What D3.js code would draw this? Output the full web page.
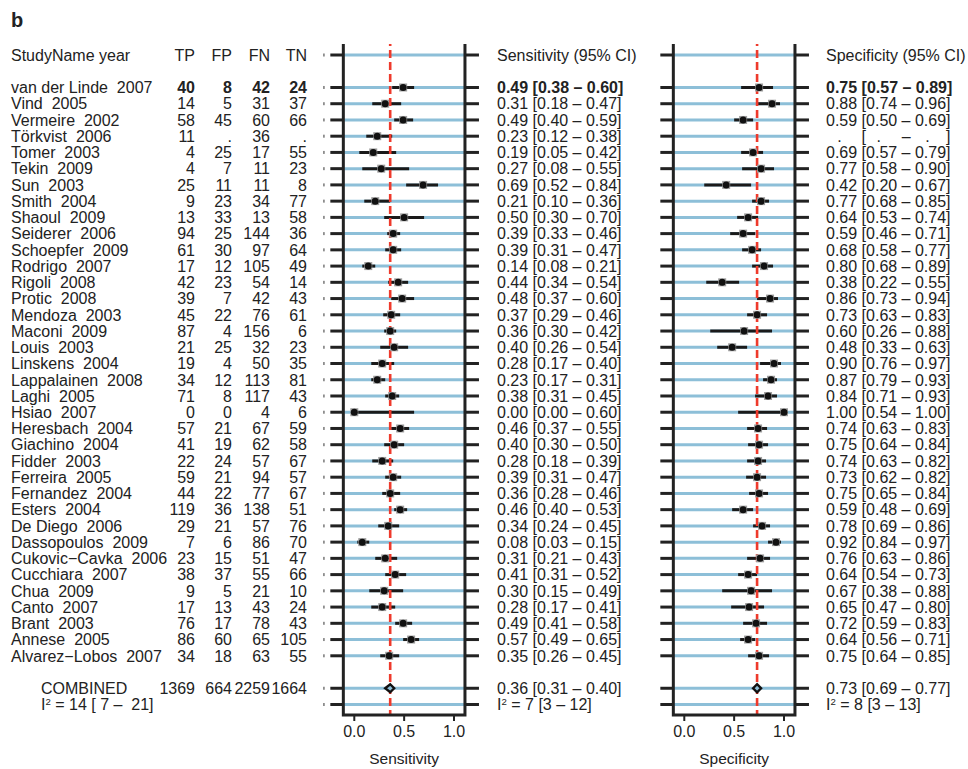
<!DOCTYPE html>
<html><head><meta charset="utf-8">
<script src="https://cdn.jsdelivr.net/npm/d3@7"></script>
<style>body{margin:0;background:#fff}svg{display:block}text{font-family:"Liberation Sans",Arial,Helvetica,sans-serif;white-space:pre;fill:#222}</style>
</head><body><svg id="c" width="968" height="769"></svg>
<script>
const studies = ["van der Linde","Vind","Vermeire","Törkvist","Tomer","Tekin","Sun","Smith","Shaoul","Seiderer","Schoepfer","Rodrigo","Rigoli","Protic","Mendoza","Maconi","Louis","Linskens","Lappalainen","Laghi","Hsiao","Heresbach","Giachino","Fidder","Ferreira","Fernandez","Esters","De Diego","Dassopoulos","Cukovic−Cavka","Cucchiara","Chua","Canto","Brant","Annese","Alvarez−Lobos"];
const years = [2007,2005,2002,2006,2003,2009,2003,2004,2009,2006,2009,2007,2008,2008,2003,2009,2003,2004,2008,2005,2007,2004,2004,2003,2005,2004,2004,2006,2009,2006,2007,2009,2007,2003,2005,2007];
const TP = [40,14,58,11,4,4,25,9,13,94,61,17,42,39,45,87,21,19,34,71,0,57,41,22,59,44,119,29,7,23,38,9,17,76,86,34];
const FP = [8,5,45,null,25,7,11,23,33,25,30,12,23,7,22,4,25,4,12,8,0,21,19,24,21,22,36,21,6,15,37,5,13,17,60,18];
const FN = [42,31,60,36,17,11,11,34,13,144,97,105,54,42,76,156,32,50,113,117,4,67,62,57,94,77,138,57,86,51,55,21,43,78,65,63];
const TN = [24,37,66,null,55,23,8,77,58,36,64,49,14,43,61,6,23,35,81,43,6,59,58,67,57,67,51,76,70,47,66,10,24,43,105,55];
const sens   = [0.49,0.31,0.49,0.23,0.19,0.27,0.69,0.21,0.50,0.39,0.39,0.14,0.44,0.48,0.37,0.36,0.40,0.28,0.23,0.38,0.00,0.46,0.40,0.28,0.39,0.36,0.46,0.34,0.08,0.31,0.41,0.30,0.28,0.49,0.57,0.35];
const sensLo = [0.38,0.18,0.40,0.12,0.05,0.08,0.52,0.10,0.30,0.33,0.31,0.08,0.34,0.37,0.29,0.30,0.26,0.17,0.17,0.31,0.00,0.37,0.30,0.18,0.31,0.28,0.40,0.24,0.03,0.21,0.31,0.15,0.17,0.41,0.49,0.26];
const sensHi = [0.60,0.47,0.59,0.38,0.42,0.55,0.84,0.36,0.70,0.46,0.47,0.21,0.54,0.60,0.46,0.42,0.54,0.40,0.31,0.45,0.60,0.55,0.50,0.39,0.47,0.46,0.53,0.45,0.15,0.43,0.52,0.49,0.41,0.58,0.65,0.45];
const spec   = [0.75,0.88,0.59,null,0.69,0.77,0.42,0.77,0.64,0.59,0.68,0.80,0.38,0.86,0.73,0.60,0.48,0.90,0.87,0.84,1.00,0.74,0.75,0.74,0.73,0.75,0.59,0.78,0.92,0.76,0.64,0.67,0.65,0.72,0.64,0.75];
const specLo = [0.57,0.74,0.50,null,0.57,0.58,0.20,0.68,0.53,0.46,0.58,0.68,0.22,0.73,0.63,0.26,0.33,0.76,0.79,0.71,0.54,0.63,0.64,0.63,0.62,0.65,0.48,0.69,0.84,0.63,0.54,0.38,0.47,0.59,0.56,0.64];
const specHi = [0.89,0.96,0.69,null,0.79,0.90,0.67,0.85,0.74,0.71,0.77,0.89,0.55,0.94,0.83,0.88,0.63,0.97,0.93,0.93,1.00,0.83,0.84,0.82,0.82,0.84,0.69,0.86,0.97,0.86,0.73,0.88,0.80,0.83,0.71,0.85];
const totals = {TP:1369, FP:664, FN:2259, TN:1664};
const pooledSens = [0.36,0.31,0.40];
const pooledSpec = [0.73,0.69,0.77];
const i2Table = [14,7,21];
const i2Sens = [7,3,12];
const i2Spec = [8,3,13];
const axisTicks = [0,0.5,1];

const svg = d3.select("#c");
const FS = 16;
const nRows = 41;
const y = d3.scalePoint().domain(d3.range(nRows)).range([55, 704.5]);
const studyRow = i => i + 2, combRow = 39, i2Row = 40;
const f2 = d3.format(".2f");
const dark = "#222", blue = "#8dbfd8", red = "#ee3a2c";

svg.append("text").attr("x",11).attr("y",27).attr("font-size",20).attr("font-weight","bold").text("b");

const cols = [["TP",TP,195,totals.TP],["FP",FP,232,totals.FP],["FN",FN,270,totals.FN],["TN",TN,307,totals.TN]];
const T = svg.append("g").attr("font-size",FS);
T.append("text").attr("x",11).attr("y",y(0)).attr("dy","0.36em").text("StudyName year");
cols.forEach(([h,arr,x,tot])=>{
  T.append("text").attr("x",x).attr("y",y(0)).attr("dy","0.36em").attr("text-anchor","end").text(h);
  arr.forEach((v,i)=>T.append("text").attr("x",x).attr("y",y(studyRow(i))).attr("dy","0.36em").attr("text-anchor","end")
     .attr("font-weight",i===0?"bold":null).text(v==null?".":v));
  T.append("text").attr("x",x).attr("y",y(combRow)).attr("dy","0.36em").attr("text-anchor","end").text(tot);
});
studies.forEach((s,i)=>T.append("text").attr("x",11).attr("y",y(studyRow(i))).attr("dy","0.36em").text(s+"  "+years[i]));
T.append("text").attr("x",41).attr("y",y(combRow)).attr("dy","0.36em").text("COMBINED");
function i2text(g,x,yy,vals,pad){
  const t=g.append("text").attr("x",x).attr("y",yy+5.8);
  t.append("tspan").text("I");
  t.append("tspan").attr("font-size",FS*0.6).attr("dy",-5).text("2");
  t.append("tspan").attr("dy",5).text(pad?` = ${vals[0]} [ ${vals[1]} –  ${vals[2]}]`:` = ${vals[0]} [${vals[1]} – ${vals[2]}]`);
}
i2text(T,41,y(i2Row),i2Table,true);

function panel(x0, est, lo, hi, pooled, i2, title, axTitle, textX, dotMark){
  const x = d3.scaleLinear().domain([0,1]).range([x0, x0+99.7]);
  const L = x(-0.11), R = x(1.11);
  const g = svg.append("g");
  const rows = [0, ...est.map((d,i)=>studyRow(i)), combRow, i2Row];
  rows.forEach(r=>{
    g.append("line").attr("x1",L-13).attr("x2",L).attr("y1",y(r)).attr("y2",y(r)).attr("stroke",dark).attr("stroke-width",3);
    g.append("line").attr("x1",R).attr("x2",R+14).attr("y1",y(r)).attr("y2",y(r)).attr("stroke",dark).attr("stroke-width",3);
    g.append("line").attr("x1",L).attr("x2",R).attr("y1",y(r)).attr("y2",y(r)).attr("stroke",blue).attr("stroke-width",3);
    if(dotMark) g.append("rect").attr("x",L-20).attr("y",y(r)-1.5).attr("width",1.2).attr("height",3).attr("fill","#555");
  });
  est.forEach((d,i)=>{ if(d==null) return;
    g.append("line").attr("x1",x(lo[i])).attr("x2",x(hi[i])).attr("y1",y(studyRow(i))).attr("y2",y(studyRow(i))).attr("stroke","#1a1a1a").attr("stroke-width",3);
  });
  g.append("line").attr("x1",x(pooled[0])).attr("x2",x(pooled[0])).attr("y1",44).attr("y2",714)
    .attr("stroke",red).attr("stroke-width",2.6).attr("stroke-dasharray","8,4").attr("stroke-dashoffset",6);
  est.forEach((d,i)=>{ if(d==null) return;
    const cx=x(d), cy=y(studyRow(i));
    g.append("rect").attr("x",cx-4).attr("y",cy-4).attr("width",8).attr("height",8).attr("fill","#9e9e9e");
    g.append("circle").attr("cx",cx).attr("cy",cy).attr("r",3.5).attr("fill","#111");
  });
  const cy=y(combRow);
  g.append("path").attr("d",`M${x(pooled[1])},${cy}L${x(pooled[0])},${cy-4}L${x(pooled[2])},${cy}L${x(pooled[0])},${cy+4}Z`)
    .attr("fill",blue).attr("stroke","#111").attr("stroke-width",2.4).attr("stroke-linejoin","miter");
  g.append("path").attr("d",`M${L},44V715H${R}V44`).attr("fill","none").attr("stroke",dark).attr("stroke-width",3);
  axisTicks.forEach(t=>{
    g.append("line").attr("x1",x(t)).attr("x2",x(t)).attr("y1",715).attr("y2",721).attr("stroke",dark).attr("stroke-width",2);
    g.append("text").attr("x",x(t)).attr("y",737).attr("text-anchor","middle").attr("font-size",FS).text(d3.format(".1f")(t));
  });
  g.append("text").attr("x",(L+R)/2).attr("y",764).attr("text-anchor","middle").attr("font-size",FS-0.5).text(axTitle);
  const tg = svg.append("g").attr("font-size",FS);
  tg.append("text").attr("x",textX).attr("y",y(0)).attr("dy","0.36em").text(title);
  est.forEach((d,i)=>{
    const yy = y(studyRow(i));
    if(d==null){
      const tmp = tg.append("text").attr("x",textX).attr("y",yy).attr("dy","0.36em").attr("fill-opacity",0).text("0.00 [0.00 – 0.00]");
      const node = tmp.node(), w = (a,b)=>node.getSubStringLength(a,b);
      const pieces = [[".", w(0,4)/2-2],["[", w(0,5)+w(5,1)/2],[".", w(0,6)+w(6,4)/2-3],["–", w(0,11)+w(11,1)/2],[".", w(0,13)+w(13,4)/2-3],["]", w(0,17)+w(17,1)/2]];
      pieces.forEach(([c,dx])=>tg.append("text").attr("x",textX+dx).attr("y",yy).attr("dy","0.36em").attr("text-anchor","middle").text(c));
      tmp.remove();
      return;
    }
    tg.append("text").attr("x",textX).attr("y",yy).attr("dy","0.36em").attr("font-weight",i===0?"bold":null).text(`${f2(d)} [${f2(lo[i])} – ${f2(hi[i])}]`);
  });
  tg.append("text").attr("x",textX).attr("y",y(combRow)).attr("dy","0.36em").text(`${f2(pooled[0])} [${f2(pooled[1])} – ${f2(pooled[2])}]`);
  i2text(tg,textX,y(i2Row),i2,false);
}
panel(354.3, sens, sensLo, sensHi, pooledSens, i2Sens, "Sensitivity (95% CI)", "Sensitivity", 497, true);
panel(684.3, spec, specLo, specHi, pooledSpec, i2Spec, "Specificity (95% CI)", "Specificity", 826, false);
</script></body></html>
